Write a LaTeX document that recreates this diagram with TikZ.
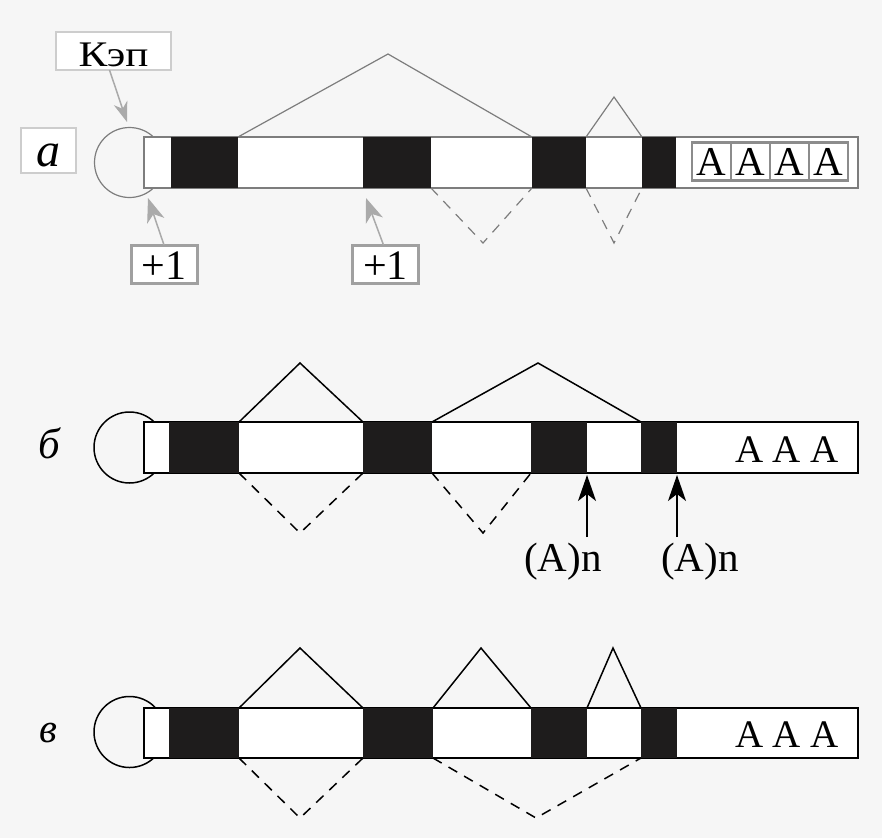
\documentclass[tikz,border=0pt]{standalone}
\usepackage{fontspec}
\setmainfont{Liberation Serif}
\usepackage{graphicx}
\usetikzlibrary{arrows.meta}
\definecolor{bgc}{RGB}{246,246,246}
\definecolor{exonc}{RGB}{30,28,28}
\definecolor{lineA}{RGB}{125,125,125}
\definecolor{boxlight}{RGB}{205,205,205}
\definecolor{boxmid}{RGB}{160,160,160}
\definecolor{boxdark}{RGB}{140,140,140}
\definecolor{arrgray}{RGB}{170,170,170}
\begin{document}
\begin{tikzpicture}[x=1pt,y=-1pt,
  every node/.style={inner sep=0pt,outer sep=0pt},
  exon/.style={fill=exonc,draw=none,anchor=north west},
  barA/.style={draw=lineA,fill=white,line width=1.2pt,anchor=north west},
  barB/.style={draw=black,fill=white,line width=1.5pt,anchor=north west},
  capA/.style={draw=lineA,line width=1.2pt,circle,minimum size=70},
  capB/.style={draw=black,line width=1.5pt,circle,minimum size=71},
  spliceA/.style={draw=lineA,line width=1.2pt},
  skipA/.style={draw=lineA,line width=1.2pt,dash pattern=on 10pt off 8pt},
  spliceB/.style={draw=black,line width=1.5pt},
  skipB/.style={draw=black,line width=1.5pt,dash pattern=on 10pt off 8pt},
  lightbox/.style={draw=boxlight,fill=white,line width=2.5pt},
  plusbox/.style={draw=boxmid,fill=white,line width=3pt,minimum width=66,minimum height=38},
  acell/.style={draw=boxdark,fill=white,line width=2.5pt,minimum width=39,minimum height=38},
  grayarr/.style={draw=arrgray,fill=arrgray,line width=1.5pt,arrows={-Stealth[length=24pt,width=18pt,inset=7pt]}},
  blackarr/.style={draw=black,line width=1.5pt,arrows={-Stealth[length=26pt,width=18pt,inset=7pt]}},
  big/.style={font=\fontsize{39}{41}\selectfont},
  lab/.style={font=\fontsize{43}{45}\selectfont\itshape}
]
\fill[bgc] (0,0) rectangle (882,838);
\useasboundingbox (0,0) rectangle (882,838);

% ---------------- panel a ----------------
\node[lightbox,minimum width=55,minimum height=45,text height=32pt,text depth=0pt,
      font=\fontsize{48}{50}\selectfont\itshape] (alab) at (48.5,150.5) {a};
\node[lightbox,minimum width=115,minimum height=38,text height=31pt,text depth=0pt,
      font=\fontsize{36}{38}\selectfont] (kep) at (113.5,51) {\scalebox{1.2}[1]{Кэп}};
\node[capA] (capa) at (129.5,162.5) {};
\node[barA,minimum width=714,minimum height=51] (bara) at (144,137) {};
\node[exon,minimum width=67,minimum height=51] (a1) at (171,137) {};
\node[exon,minimum width=68,minimum height=51] (a2) at (363,137) {};
\node[exon,minimum width=54,minimum height=51] (a3) at (532,137) {};
\node[exon,minimum width=34,minimum height=51] (a4) at (642,137) {};
\coordinate (pa1) at (388,54);
\coordinate (pa2) at (614,97);
\coordinate (da1) at (483,243);
\coordinate (da2) at (614,243);
\draw[spliceA] (a1.north east) -- (pa1) -- (a3.north west);
\draw[spliceA] (a3.north east) -- (pa2) -- (a4.north west);
\draw[skipA] (a2.south east) -- (da1) -- (a3.south west);
\draw[skipA] (a3.south east) -- (da2) -- (a4.south west);
\node[acell,font=\fontsize{41}{43}\selectfont] (aa1) at (711.5,161.5) {A};
\node[acell,font=\fontsize{41}{43}\selectfont] (aa2) at (750.5,161.5) {A};
\node[acell,font=\fontsize{41}{43}\selectfont] (aa3) at (789.5,161.5) {A};
\node[acell,font=\fontsize{41}{43}\selectfont] (aa4) at (828.5,161.5) {A};
\node[plusbox,font=\fontsize{42}{44}\selectfont,text height=31pt,text depth=0pt] (p1) at (164,264) {+1};
\node[plusbox,font=\fontsize{42}{44}\selectfont,text height=31pt,text depth=0pt] (p2) at (385.5,264) {+1};
\coordinate (t0) at (127,122);
\coordinate (t1) at (148,198);
\coordinate (t2) at (366,198);
\draw[grayarr,arrows={-Stealth[length=20pt,width=14pt,inset=6pt]}] ([xshift=-4pt]kep.south) -- (t0);
\draw[grayarr] (p1.north) -- (t1);
\draw[grayarr] ([xshift=-2pt]p2.north) -- (t2);

% ---------------- panel b ----------------
\node[lab] (blab) at (49,443) {б};
\node[capB] (capb) at (129.5,447.5) {};
\node[barB,minimum width=714,minimum height=51] (barb) at (144,422) {};
\node[exon,minimum width=70,minimum height=51] (b1) at (169,422) {};
\node[exon,minimum width=69,minimum height=51] (b2) at (363,422) {};
\node[exon,minimum width=56,minimum height=51] (b3) at (531,422) {};
\node[exon,minimum width=36,minimum height=51] (b4) at (641,422) {};
\coordinate (pb1) at (300,363);
\coordinate (pb2) at (538,363);
\coordinate (db1) at (300,533);
\coordinate (db2) at (483,533);
\draw[spliceB] (b1.north east) -- (pb1) -- (b2.north west);
\draw[spliceB] (b2.north east) -- (pb2) -- (b4.north west);
\draw[skipB] (b1.south east) -- (db1) -- (b2.south west);
\draw[skipB] (b2.south east) -- (db2) -- (b3.south west);
\node[big] (aaab) at (787,449.5) {A A A};
\node[big,font=\fontsize{41}{43}\selectfont] (an1) at (563,562) {(A)n};
\node[big,font=\fontsize{41}{43}\selectfont] (an2) at (700,562) {(A)n};
\coordinate (s1) at (587,537);
\coordinate (s2) at (677,537);
\draw[blackarr,shorten >=2pt] (s1) -- (b3.south east);
\draw[blackarr,shorten >=2pt] (s2) -- (b4.south east);

% ---------------- panel c ----------------
\node[font=\fontsize{41}{43}\selectfont\itshape] (clab) at (48,733) {в};
\node[capB] (capc) at (129.5,732) {};
\node[barB,minimum width=714,minimum height=50] (barc) at (144,708) {};
\node[exon,minimum width=70,minimum height=50] (c1) at (169,708) {};
\node[exon,minimum width=70,minimum height=50] (c2) at (363,708) {};
\node[exon,minimum width=56,minimum height=50] (c3) at (531,708) {};
\node[exon,minimum width=36,minimum height=50] (c4) at (641,708) {};
\coordinate (pc1) at (300,648);
\coordinate (pc2) at (481,648);
\coordinate (pc3) at (613,648);
\coordinate (dc1) at (300,818);
\coordinate (dc2) at (536,818);
\draw[spliceB] (c1.north east) -- (pc1) -- (c2.north west);
\draw[spliceB] (c2.north east) -- (pc2) -- (c3.north west);
\draw[spliceB] (c3.north east) -- (pc3) -- (c4.north west);
\draw[skipB] (c1.south east) -- (dc1) -- (c2.south west);
\draw[skipB] (c2.south east) -- (dc2) -- (c4.south west);
\node[big] (aaac) at (787,734.5) {A A A};
\end{tikzpicture}
\end{document}
